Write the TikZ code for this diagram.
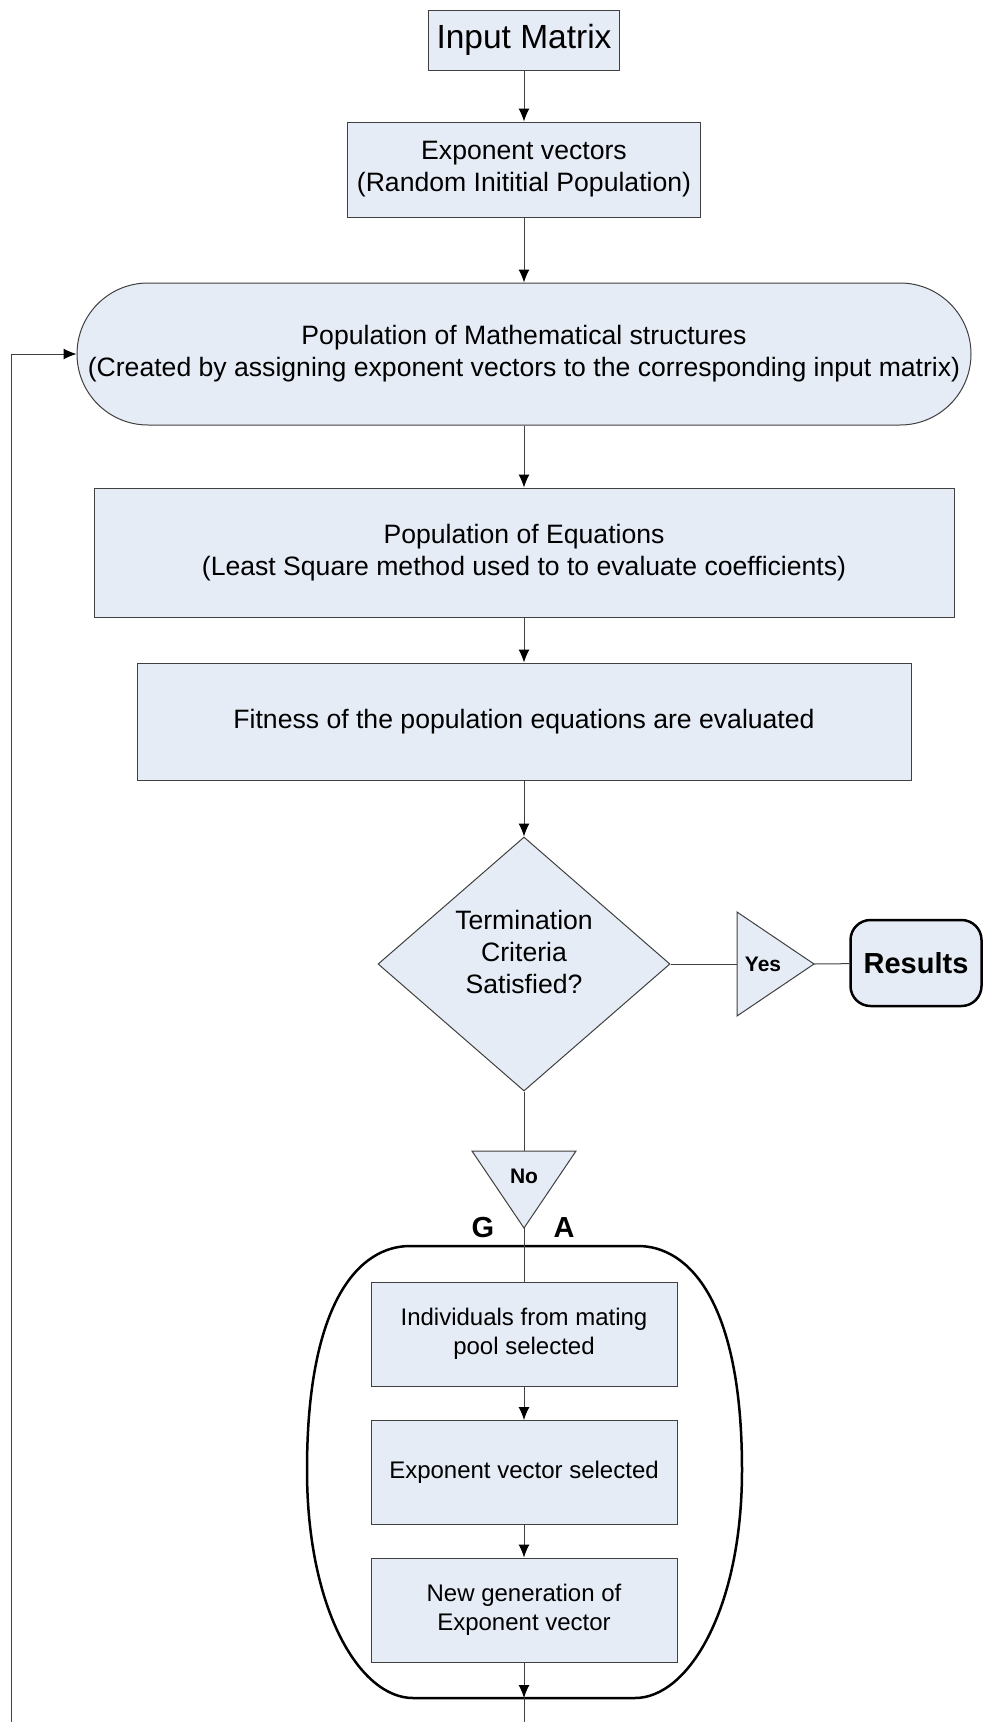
\documentclass[tikz,border=0pt]{standalone}
\usepackage{fontspec}
\setmainfont{Liberation Sans}
\usepackage{xcolor}
\usepackage{tikz}
\usetikzlibrary{arrows.meta}
\usetikzlibrary{shapes,shapes.geometric}
\tikzset{>=stealth}
\definecolor{boxblue}{RGB}{230,236,246}
\definecolor{linegray}{RGB}{64,64,64}
\tikzset{
  shapefill/.style={draw=linegray, fill=boxblue, line width=1pt},
  procbox/.style={shapefill, rectangle, align=center, inner sep=0pt, font=\fontsize{26.6}{32}\selectfont},
  gabox/.style={procbox, minimum width=306pt, minimum height=104pt, font=\fontsize{24}{28.5}\selectfont},
  boldlbl/.style={font=\bfseries\fontsize{29}{34}\selectfont},
  flow/.style={draw=linegray, line width=1pt},
  flowarr/.style={flow, -{Latex[length=13pt,width=11pt,color=black]}},
}

\begin{document}
\begin{tikzpicture}[x=1pt,y=-1pt]
  \useasboundingbox (0,0) rectangle (984,1722);

  \node[procbox, minimum width=191pt, minimum height=60pt, font=\fontsize{33.5}{40}\selectfont] (inmat) at (524,40) {Input Matrix};
  \node[procbox, minimum width=353pt, minimum height=95pt] (expvec) at (524,169.5) {Exponent vectors\\(Random Inititial Population)};
  \node[procbox, rounded corners=71pt, minimum width=894pt, minimum height=142pt] (popms) at (524,354) {Population of Mathematical structures\\(Created by assigning exponent vectors to the corresponding input matrix)};
  \node[procbox, minimum width=860pt, minimum height=129pt] (popeq) at (524,552.5) {Population of Equations\\(Least Square method used to to evaluate coefficients)};
  \node[procbox, minimum width=774pt, minimum height=117pt] (fitness) at (524,721.5) {Fitness of the population equations are evaluated};
  \node[procbox, diamond, minimum width=292pt, minimum height=254pt] (crit) at (524,964) {};
  \node[align=center, font=\fontsize{26.6}{32}\selectfont] (crittxt) at (524,952) {Termination\\Criteria\\Satisfied?};

  % yes / no flags
  \draw[shapefill] (737,912) -- (814,964) -- (737,1016) -- cycle;
  \coordinate (yesin) at (737,964);
  \coordinate (yesout) at (814,964);
  \node[font=\bfseries\fontsize{21}{25}\selectfont] (yes) at (763,964) {Yes};
  \node[draw=black, fill=boxblue, line width=2.5pt, rounded corners=20pt, minimum width=131pt, minimum height=86pt, boldlbl] (results) at (916,963) {Results};

  \draw[shapefill] (472,1151) -- (576,1151) -- (524,1228) -- cycle;
  \coordinate (notop) at (524,1151);
  \coordinate (notip) at (524,1228);
  \node[font=\bfseries\fontsize{21}{25}\selectfont] (no) at (524,1176) {No};

  % GA block
  \node[boldlbl] (glbl) at (483,1228) {G};
  \node[boldlbl] (albl) at (564,1228) {A};
  \draw[line width=2.5pt] (410,1246) .. controls (360,1246) and (307,1300) .. (307,1470)
    .. controls (307,1610) and (360,1698) .. (413,1698) -- (635,1698)
    .. controls (688,1698) and (742,1610) .. (742,1470)
    .. controls (742,1300) and (688,1246) .. (638,1246) -- cycle;
  \node[gabox] (indiv) at (524,1334) {Individuals from mating\\pool selected};
  \node[gabox] (evsel) at (524,1472.5) {Exponent vector selected};
  \node[gabox] (newgen) at (524,1610) {New generation of\\Exponent vector};
  \coordinate (gabot) at (524,1698);
  \coordinate (outbot) at (524,1722);
  \coordinate (loopbot) at (11,1722);
  \coordinate (looptop) at (11,354);

  \draw[flowarr] (inmat) -- (expvec);
  \draw[flowarr] (expvec) -- (popms);
  \draw[flowarr] (popms) -- (popeq);
  \draw[flowarr] (popeq) -- (fitness);
  \draw[flowarr] (fitness) -- (crit);
  \draw[flow] (crit.east) -- (yesin);
  \draw[flow] (yesout) -- (results);
  \draw[flow] (crit.south) -- (notop);
  \draw[flow] (notip) -- (indiv);
  \draw[flowarr] (indiv) -- (evsel);
  \draw[flowarr] (evsel) -- (newgen);
  \draw[flowarr] (newgen) -- (gabot);
  \draw[flow] (gabot) -- (outbot);
  \draw[flowarr] (loopbot) -- (looptop) -- (popms.west);
\end{tikzpicture}
\end{document}
